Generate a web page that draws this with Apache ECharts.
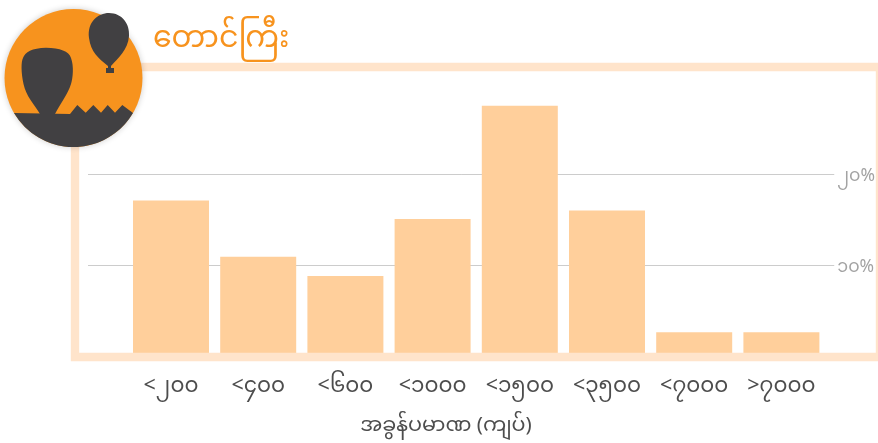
<!DOCTYPE html>
<html>
<head>
<meta charset="utf-8">
<style>
  html, body { margin: 0; padding: 0; background: #fff; }
  #chart { width: 878px; height: 443px; }
</style>
<script src="https://cdn.jsdelivr.net/npm/echarts@6/dist/echarts.min.js"></script>
</head>
<body>
<div id="chart"></div>
<script>
var titleText = 'တောင်ကြီး';
var xAxisTitle = 'အခွန်ပမာဏ (ကျပ်)';
var categories = ['<၂၀၀', '<၄၀၀', '<၆၀၀', '<၁၀၀၀', '<၁၅၀၀', '<၃၅၀၀', '<၇၀၀၀', '>၇၀၀၀'];
var shares = [17.1, 10.9, 8.8, 15.05, 27.5, 16.0, 2.6, 2.6];
var yTickLabels = { 10: '၁၀%', 20: '၂၀%' };

var font = '"Noto Sans", "Noto Sans Myanmar", sans-serif';
var orange = '#F7931E';
var dark = '#414042';
var band = '#FFE4CB';

// badge shapes, the graphic component only takes registered shape names
function badgeShape(name, d) {
  echarts.graphic.registerShape(name, echarts.graphic.extendPath(d, {}));
}
badgeShape('badgeGround', 'M14,113 L70,114 L77.3,105 L85.7,112.7 L93.3,105 L101,112.7 L107.7,105 L115,112.7 L122.3,105 L133,113 A69,69 0 0 1 14,113 Z');
badgeShape('badgeBigBalloon', 'M40,114 C34,104 26,96 23.5,84 C21,72 21,62 23,58 C25,52 32,48 46,47.7 C60,48 69,51 71,58 C74,66 73,78 71,84 C68,94 60,104 55,114 Z');
badgeShape('badgeSmallBalloon', 'M108,66 C98,58 91,52 89,38 C87,22 98,13 109,13 C122,13 130,24 129,36 C128,50 118,58 111,66 L111,68 L114,68 L114,73 L106,73 L106,68 L108,68 Z');

var chart = echarts.init(document.getElementById('chart'));
var option = {
  animation: false,
  textStyle: { fontFamily: font },
  title: [
    { text: titleText, left: 148, top: 18, textStyle: { color: orange, fontSize: 30, fontWeight: 'normal', fontFamily: font } },
    { text: xAxisTitle, left: 441, textAlign: 'center', top: 410, textStyle: { color: '#4d4d4d', fontSize: 20.7, fontWeight: 'normal', fontFamily: font } }
  ],
  // grid 0 only carries the long gridlines and % labels, grid 1 holds the bars
  grid: [
    { left: 88, right: 42, top: 83, height: 273 },
    { left: 127.4, right: 53, top: 83, height: 273 }
  ],
  xAxis: [
    { gridIndex: 0, type: 'value', min: 0, max: 1, show: false },
    {
      gridIndex: 1,
      type: 'category',
      data: categories,
      axisLine: { show: false },
      axisTick: { show: false },
      axisLabel: { color: '#4d4d4d', fontSize: 21.5, margin: 19, interval: 0, fontFamily: font }
    }
  ],
  yAxis: [
    {
      gridIndex: 0,
      type: 'value',
      position: 'right',
      min: 0,
      max: 30,
      interval: 10,
      axisLine: { show: false },
      axisTick: { show: false },
      axisLabel: {
        margin: 3,
        formatter: function (v) { return yTickLabels[v] ? '{tick|' + yTickLabels[v] + '}' : ''; },
        rich: {
          // pushes the label a little under its gridline
          tick: { color: '#a3a3a3', fontSize: 17.5, fontFamily: font, padding: [5, 0, 0, 0] }
        }
      },
      splitLine: { show: true, showMinLine: false, showMaxLine: false, lineStyle: { color: '#cccccc', width: 1 } }
    },
    { gridIndex: 1, type: 'value', min: 0, max: 30, show: false }
  ],
  series: [
    {
      type: 'bar',
      xAxisIndex: 1,
      yAxisIndex: 1,
      data: shares,
      barWidth: 76,
      itemStyle: { color: '#FFCF9B' },
      z: 2
    }
  ],
  graphic: [
    // frame round the plot
    { type: 'rect', z: 10, silent: true, shape: { x: 75, y: 67, width: 805, height: 290 }, style: { fill: null, stroke: band, lineWidth: 8.4 } },
    // balloon badge
    { type: 'circle', z: 20, silent: true, shape: { cx: 73.5, cy: 78, r: 69 }, style: { fill: orange, shadowBlur: 6, shadowColor: 'rgba(0,0,0,0.2)' } },
    { type: 'badgeGround', z: 21, silent: true, style: { fill: dark } },
    { type: 'badgeBigBalloon', z: 21, silent: true, style: { fill: dark } },
    { type: 'badgeSmallBalloon', z: 21, silent: true, style: { fill: dark } }
  ]
};
chart.setOption(option);
</script>
</body>
</html>
